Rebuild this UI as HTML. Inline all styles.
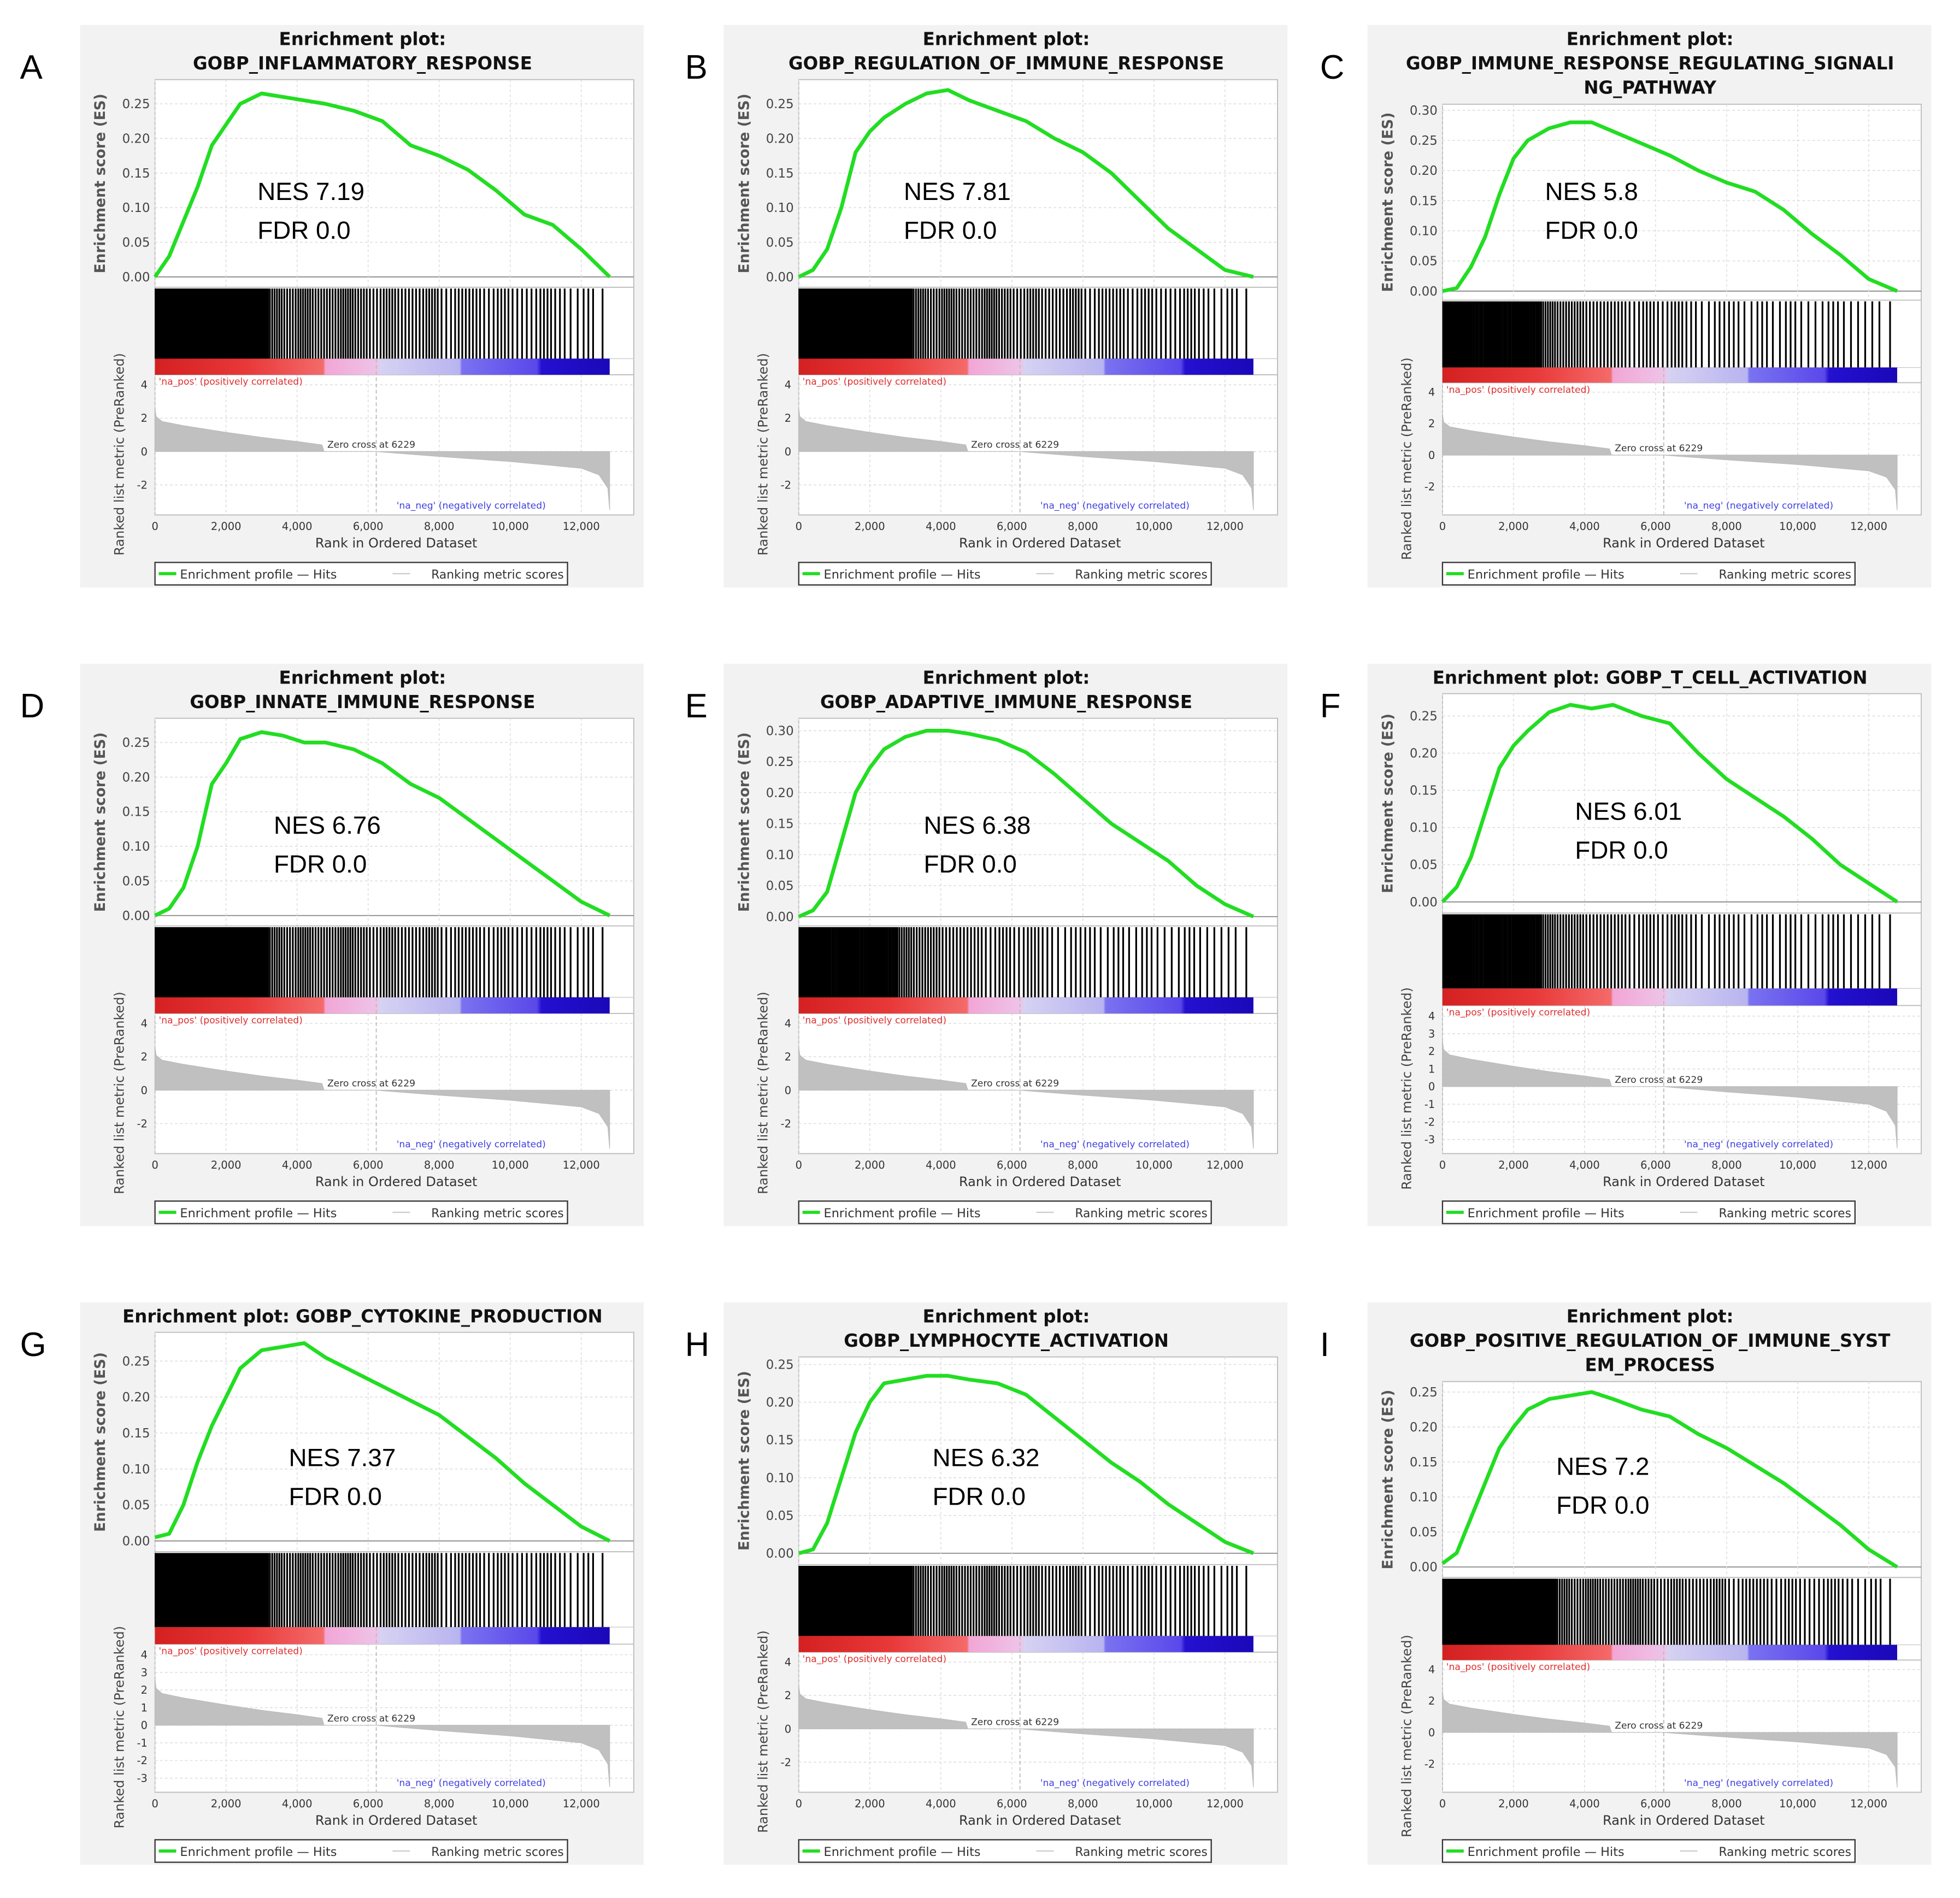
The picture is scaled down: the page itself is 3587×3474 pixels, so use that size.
<!DOCTYPE html>
<html><head><meta charset="utf-8"><style>
html,body{margin:0;padding:0;background:#fff;}
svg{display:block;}
text{font-family:"DejaVu Sans","Liberation Sans",sans-serif;}
text.nes{font-family:"Liberation Sans","DejaVu Sans",sans-serif;}
</style></head><body>
<svg id="fig" xmlns="http://www.w3.org/2000/svg" width="3587" height="3474" viewBox="0 0 1568 1518.6"></svg>
<script>
const ranks = [0,400,800,1200,1600,2000,2400,3000,3600,4200,4800,5600,6400,7200,8000,8800,9600,10400,11200,12000,12800];
const esA = [0,0.03,0.08,0.13,0.19,0.22,0.25,0.265,0.26,0.255,0.25,0.24,0.225,0.19,0.175,0.155,0.125,0.09,0.075,0.04,0];
const esB = [0,0.01,0.04,0.1,0.18,0.21,0.23,0.25,0.265,0.27,0.255,0.24,0.225,0.2,0.18,0.15,0.11,0.07,0.04,0.01,0];
const esC = [0,0.005,0.04,0.09,0.16,0.22,0.25,0.27,0.28,0.28,0.265,0.245,0.225,0.2,0.18,0.165,0.135,0.095,0.06,0.02,0];
const esD = [0,0.01,0.04,0.1,0.19,0.22,0.255,0.265,0.26,0.25,0.25,0.24,0.22,0.19,0.17,0.14,0.11,0.08,0.05,0.02,0];
const esE = [0,0.01,0.04,0.12,0.2,0.24,0.27,0.29,0.3,0.3,0.295,0.285,0.265,0.23,0.19,0.15,0.12,0.09,0.05,0.02,0];
const esF = [0,0.02,0.06,0.12,0.18,0.21,0.23,0.255,0.265,0.26,0.265,0.25,0.24,0.2,0.165,0.14,0.115,0.085,0.05,0.025,0];
const esG = [0.005,0.01,0.05,0.11,0.16,0.2,0.24,0.265,0.27,0.275,0.255,0.235,0.215,0.195,0.175,0.145,0.115,0.08,0.05,0.02,0];
const esH = [0,0.005,0.04,0.1,0.16,0.2,0.225,0.23,0.235,0.235,0.23,0.225,0.21,0.18,0.15,0.12,0.095,0.065,0.04,0.015,0];
const esI = [0.005,0.02,0.07,0.12,0.17,0.2,0.225,0.24,0.245,0.25,0.24,0.225,0.215,0.19,0.17,0.145,0.12,0.09,0.06,0.025,0];
const metricRanks = [0,30,200,800,2000,3000,4000,4700,4760,6229,6500,8000,10000,12000,12500,12750,12800];
const metricVals  = [2.6,2.1,1.8,1.55,1.15,0.85,0.6,0.4,0.0,0.0,-0.05,-0.3,-0.6,-1.0,-1.4,-2.2,-3.5];
const hitsDense  = [9,9,9,9,9,9,9,9,6,5,6,5,5,6,5,4,5,4,4,5,3,4,4,3,4,3,3,4,3,2,3,1];
const hitsSparse = [8,8,7,8,7,8,7,6,5,5,4,4,4,3,4,3,4,3,2,3,3,2,3,2,3,2,2,3,2,2,2,1];
const xTicks = [0,2000,4000,6000,8000,10000,12000];
const xTickLabels = ["0","2,000","4,000","6,000","8,000","10,000","12,000"];
const panels = [
 {id:"A",col:0,row:0,title:["Enrichment plot:","GOBP_INFLAMMATORY_RESPONSE"],es:esA,max:0.285,nes:"NES 7.19",nx:142,ny:133,hits:hitsDense,mstep:2},
 {id:"B",col:1,row:0,title:["Enrichment plot:","GOBP_REGULATION_OF_IMMUNE_RESPONSE"],es:esB,max:0.285,nes:"NES 7.81",nx:144,ny:133,hits:hitsDense,mstep:2},
 {id:"C",col:2,row:0,title:["Enrichment plot:","GOBP_IMMUNE_RESPONSE_REGULATING_SIGNALI","NG_PATHWAY"],es:esC,max:0.31,nes:"NES 5.8",nx:142,ny:133,hits:hitsSparse,mstep:2},
 {id:"D",col:0,row:1,title:["Enrichment plot:","GOBP_INNATE_IMMUNE_RESPONSE"],es:esD,max:0.285,nes:"NES 6.76",nx:155,ny:129,hits:hitsDense,mstep:2},
 {id:"E",col:1,row:1,title:["Enrichment plot:","GOBP_ADAPTIVE_IMMUNE_RESPONSE"],es:esE,max:0.32,nes:"NES 6.38",nx:160,ny:129,hits:hitsSparse,mstep:2},
 {id:"F",col:2,row:1,title:["Enrichment plot: GOBP_T_CELL_ACTIVATION"],es:esF,max:0.28,nes:"NES 6.01",nx:166,ny:118,hits:hitsSparse,mstep:1},
 {id:"G",col:0,row:2,title:["Enrichment plot: GOBP_CYTOKINE_PRODUCTION"],es:esG,max:0.29,nes:"NES 7.37",nx:167,ny:124,hits:hitsDense,mstep:1},
 {id:"H",col:1,row:2,title:["Enrichment plot:","GOBP_LYMPHOCYTE_ACTIVATION"],es:esH,max:0.26,nes:"NES 6.32",nx:167,ny:124,hits:hitsDense,mstep:2},
 {id:"I",col:2,row:2,title:["Enrichment plot:","GOBP_POSITIVE_REGULATION_OF_IMMUNE_SYST","EM_PROCESS"],es:esI,max:0.265,nes:"NES 7.2",nx:151,ny:131,hits:hitsDense,mstep:2}
];

const NS="http://www.w3.org/2000/svg";
const fig=document.getElementById('fig');
function mk(parent,tag,attrs,txt){const e=document.createElementNS(NS,tag);for(const k in attrs)e.setAttribute(k,attrs[k]);if(txt!==undefined)e.textContent=txt;parent.appendChild(e);return e;}

const defs=mk(fig,'defs',{});
const grad=mk(defs,'linearGradient',{id:'cbar',x1:'0',x2:'1',y1:'0',y2:'0'});
[[0,'#d42020'],[0.2,'#e83838'],[0.37,'#f46a6a'],[0.375,'#f2a6d6'],[0.49,'#eec4e8'],[0.495,'#d6d2f2'],[0.67,'#b8b4f0'],[0.675,'#7a72f0'],[0.84,'#5a48ea'],[0.85,'#2410d0'],[1,'#1a08b8']].forEach(s=>mk(grad,'stop',{offset:s[0],'stop-color':s[1]}));

panels.forEach(p=>{
  const px=64+p.col*515, py=20+p.row*511;
  const g=mk(fig,'g',{});
  
  
  const bg=mk(g,'rect',{x:px,y:py,width:451,height:450,fill:'#f2f2f2'});
  
  
  const lt=mk(g,'text',{class:'nes',x:(p.col===0?16:(p.col===1?548:1056)),y:py+43,'font-size':27,fill:'#000'},p.id);
  
  
  p.title.forEach((t,i)=>{
    const tt=mk(g,'text',{x:px+226,y:py+16+i*19.5,'font-size':14.2,'font-weight':'bold','text-anchor':'middle',fill:'#111'},t);
    
    
  });
  const L=px+60, W=383, top=py+24+19.7*(p.title.length-1), bottom=py+392;
  const H=bottom-top;
  const esB=top+0.477*H, hitT=esB, hitB=hitT+0.164*H, colB=hitB+0.037*H;
  const xs=r=>L+r*341/12000;
  const ymin=-0.015;
  const ys=v=>top+(p.max-v)/(p.max-ymin)*(esB-top);
  const mmax=4.6,mmin=-3.8;
  const ym=v=>colB+(mmax-v)/(mmax-mmin)*(bottom-colB);
  mk(g,'rect',{x:L,y:top,width:W,height:H,fill:'#fff',stroke:'#bbb','stroke-width':0.8});
  for(let v=0;v<=p.max+1e-9;v+=0.05){
    mk(g,'line',{x1:L,x2:L+W,y1:ys(v),y2:ys(v),stroke:v===0?'#888':'#ddd','stroke-width':v===0?0.8:0.7,'stroke-dasharray':v===0?'':'2,2'});
    const tl=mk(g,'text',{x:L-4,y:ys(v)+3.5,'font-size':10,'text-anchor':'end',fill:'#444'},v.toFixed(2));
    
    
  }
  xTicks.forEach((r,i)=>{
    mk(g,'line',{x1:xs(r),x2:xs(r),y1:top,y2:esB,stroke:'#ddd','stroke-width':0.7,'stroke-dasharray':'2,2'});
    mk(g,'line',{x1:xs(r),x2:xs(r),y1:colB,y2:bottom,stroke:'#ddd','stroke-width':0.7,'stroke-dasharray':'2,2'});
    const xl=mk(g,'text',{x:xs(r),y:bottom+12,'font-size':8.5,'text-anchor':'middle',fill:'#333'},xTickLabels[i]);
    
    
  });
  mk(g,'line',{x1:L,x2:L+W,y1:esB,y2:esB,stroke:'#bbb','stroke-width':0.8});
  mk(g,'line',{x1:L,x2:L+W,y1:colB,y2:colB,stroke:'#bbb','stroke-width':0.8});
  mk(g,'line',{x1:L,x2:L+W,y1:hitB,y2:hitB,stroke:'#ccc','stroke-width':0.6});
  const pts=ranks.map((r,i)=>xs(r).toFixed(2)+','+ys(p.es[i]).toFixed(2)).join(' ');
  const cur=mk(g,'polyline',{points:pts,fill:'none',stroke:'#22dd22','stroke-width':3,'stroke-linejoin':'round'});
  
  
  const n1=mk(g,'text',{class:'nes',x:px+p.nx,y:py+p.ny+7,'font-size':20,fill:'#000'},p.nes);
  
  
  const n2=mk(g,'text',{class:'nes',x:px+p.nx,y:py+p.ny+38,'font-size':20,fill:'#000'},'FDR 0.0');
  
  
  const hg=mk(g,'g',{});
  
  
  const binR=400;
  p.hits.forEach((c,b)=>{
    for(let k=0;k<c;k++){
      const r=b*binR+(k+0.5)*binR/c;
      mk(hg,'line',{x1:xs(r),x2:xs(r),y1:hitT+1,y2:hitB,stroke:'#000','stroke-width':c>=7?1.7:1.4});
    }
  });
  const cb=mk(g,'rect',{x:L,y:hitB,width:xs(12800)-L,height:colB-hitB,fill:'url(#cbar)'});
  
  
  for(let v=4;v>=-3;v-=p.mstep){
    const ml=mk(g,'text',{x:L-6,y:ym(v)+3,'font-size':8.5,'text-anchor':'end',fill:'#333'},String(v));
    
    
    mk(g,'line',{x1:L,x2:L+W,y1:ym(v),y2:ym(v),stroke:'#ddd','stroke-width':0.7,'stroke-dasharray':'2,2'});
  }
  let mp=xs(0)+','+ym(0)+' ';
  mp+=metricRanks.map((r,i)=>xs(r).toFixed(2)+','+ym(metricVals[i]).toFixed(2)).join(' ');
  mp+=' '+xs(12800)+','+ym(0);
  const ma=mk(g,'polygon',{points:mp,fill:'#c0c0c0',stroke:'#bbb','stroke-width':0.5});
  
  
  mk(g,'line',{x1:xs(6229),x2:xs(6229),y1:hitB,y2:bottom,stroke:'#bbb','stroke-width':0.8,'stroke-dasharray':'3,2'});
  const zc=mk(g,'text',{x:xs(4850),y:ym(0)-3,'font-size':7.5,fill:'#333'},'Zero cross at 6229');
  
  
  const np=mk(g,'text',{x:L+3,y:colB+8,'font-size':7.5,fill:'#e03030'},"'na_pos' (positively correlated)");
  
  
  const nn=mk(g,'text',{x:xs(6800),y:bottom-5,'font-size':7.5,fill:'#4040e0'},"'na_neg' (negatively correlated)");
  
  
  const xa=mk(g,'text',{x:L+193,y:bottom+26,'font-size':10.5,'text-anchor':'middle',fill:'#333'},'Rank in Ordered Dataset');
  
  
  const ex=L-40, ey=(top+esB)/2;
  const ya=mk(g,'text',{x:ex,y:ey,'font-size':11.5,'font-weight':'bold','text-anchor':'middle',fill:'#555',transform:'rotate(-90 '+ex+' '+ey+')'},'Enrichment score (ES)');
  
  
  const mx=L-25, my=(hitB+bottom+28)/2;
  const yb=mk(g,'text',{x:mx,y:my,'font-size':10.5,'text-anchor':'middle',fill:'#444',transform:'rotate(-90 '+mx+' '+my+')'},'Ranked list metric (PreRanked)');
  
  
  const lg=mk(g,'g',{});
  
  
  const ly=py+430;
  mk(lg,'rect',{x:L,y:ly,width:330,height:18,fill:'#fff',stroke:'#333','stroke-width':1});
  mk(lg,'line',{x1:L+3,x2:L+17,y1:ly+9,y2:ly+9,stroke:'#22dd22','stroke-width':2.5});
  const le=mk(lg,'text',{x:L+20,y:ly+13,'font-size':9.8,fill:'#333'},'Enrichment profile — Hits');
  
  
  mk(lg,'line',{x1:L+190,x2:L+204,y1:ly+9,y2:ly+9,stroke:'#ccc','stroke-width':1});
  const le2=mk(lg,'text',{x:L+221,y:ly+13,'font-size':9.8,fill:'#333','textLength':106,'lengthAdjust':'spacingAndGlyphs'},'Ranking metric scores');
  
  
});
</script>
</body></html>
